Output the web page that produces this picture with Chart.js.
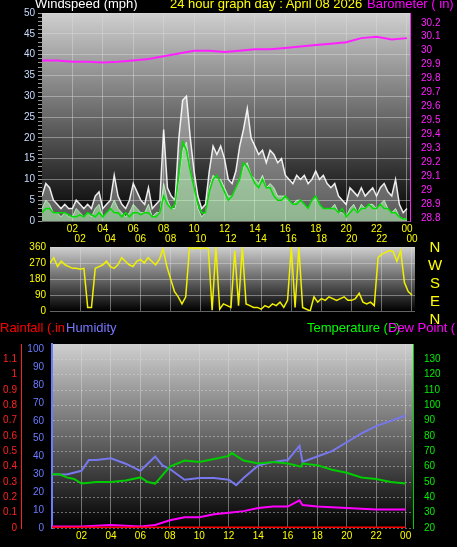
<!DOCTYPE html>
<html><head><meta charset="utf-8">
<script src="https://cdn.jsdelivr.net/npm/chart.js@4"></script>
<style>
body{margin:0;background:#000;width:457px;height:547px;overflow:hidden;position:relative;font-family:"Liberation Sans",sans-serif}
canvas{position:absolute;left:0}
.t{position:absolute;font-size:13px;white-space:nowrap;line-height:14px}
</style></head><body>
<canvas id="c1" style="top:0"></canvas>
<canvas id="c2" style="top:232px"></canvas>
<canvas id="c3" style="top:330px"></canvas>
<div class="t" style="left:35px;top:-3px;color:#fff">Windspeed (mph)</div>
<div class="t" style="left:170px;top:-3px;color:#ff0">24 hour graph day : April 08 2026</div>
<div class="t" style="left:367px;top:-3px;color:#f0f">Barometer ( in)</div>
<div class="t" style="left:428px;top:238px;color:#ff0;font-size:15px;line-height:18px;width:14px;text-align:center">N<br>W<br>S<br>E<br>N</div>
<div class="t" style="left:0;top:321px;color:#f00">Rainfall (.in</div>
<div class="t" style="left:66px;top:321px;color:#77f">Humidity</div>
<div class="t" style="left:307px;top:321px;color:#0f0">Temperature (F)</div>
<div class="t" style="left:388px;top:321px;color:#f0f">Dew Point (</div>
<script>
const quarterHours = Array.from({length:97},(_,i)=>i/4);
const windGust = [6,9,8,5,4,3,4,3,3,5,4,3,4,3,6,7,3,4,5,11,6,4,3,5,9,7,5,4,8,3,4,5,22,8,6,5,20,29,30,20,12,6,3,4,12,18,16,18,15,10,9,12,18,22,27,20,18,16,17,14,17,16,14,15,11,10,9,11,10,11,9,10,12,10,11,9,8,9,6,5,4,8,7,6,8,6,7,8,6,8,9,7,6,10,4,2,3];
const windAvg = [3,5,4,2,2,1,2,1,1,3,2,1,2,1,3,4,1,2,3,5,3,2,1,2,4,3,2,2,4,1,2,2,9,5,3,3,10,17,19,12,8,3,1,2,8,11,10,10,8,6,6,8,10,13,14,11,10,9,11,8,9,8,6,6,6,5,4,5,5,4,3,5,6,4,3,3,3,4,2,2,1,3,4,2,4,3,4,4,3,4,5,3,2,3,1,0.5,0.5];
const windTrend = [2,3,3,2,2,2,2,1.5,1,1,1.5,1,2,1.5,1,2,1,2,3,2,2,1,2,1,2,2,1.5,2,2,1,1,2,6,4,3,4,11,19,17,12,8,4,2,2,7,10,11,9,7,5,6,8,10,14,13,11,9,8,10,8,8,6,5,5,6,5,4,4,5,4,3,5,6,4,3,3,3,3,2,3,1,2,3,2,3,3,4,3,3,4,3,3,2,2,1,0.5,0.5];
const baroHours = [0,1,2,3,4,5,6,7,8,9,10,11,12,13,14,15,16,17,18,19,20,21,22,23,24];
const baroVals = [29.93,29.93,29.92,29.92,29.915,29.92,29.93,29.94,29.96,29.98,30.0,30.0,29.99,30.0,30.01,30.01,30.02,30.03,30.04,30.05,30.06,30.09,30.1,30.08,30.09];
const windDir = [270,300,250,280,260,250,240,240,235,240,20,20,240,250,260,280,250,240,260,300,280,260,250,280,290,270,300,280,260,290,350,250,180,110,80,40,80,360,350,355,350,355,350,5,360,10,40,30,20,340,30,360,40,30,20,20,10,30,20,40,30,50,20,60,360,20,360,20,10,0,80,50,70,60,80,70,60,70,80,60,60,70,100,50,40,50,30,300,320,330,340,335,280,340,160,110,90];
const tempHours = [0,0.5,1,1.5,2,3,4,5,6,6.5,7,8,9,10,11,12,12.2,13,14,15,16,16.9,17,18,19,20,21,22,23,24];
const tempVals = [55,55,53,52,49,50,50,51,53,50,49,60,64,63,65,67,69,64,62,63,62,60,62,61,58,56,53,52,50,49];
const humHours = [0,1,2,2.5,3,4,5,6,7,7.5,8,9,10,11,12,12.5,13,14,15,16,16.8,17,18,19,20,21,22,23,24];
const humVals = [30,30,32,38,38,39,36,32,40,35,33,27,28,28,27,24,28,35,37,38,46,37,40,43,48,53,57,60,63];
const dewHours = [0,2,4,6,7,8,9,10,11,12,13,14,15,16,16.8,17,18,20,22,24];
const dewVals = [21,21,22,21,22,25,27,27,29,30,31,33,34,34,38,35,34,33,32,32];
const rainHours = [0,24];
const rainVals = [0,0];
const hourTicks = [2,4,6,8,10,12,14,16,18,20,22,24];

const pts=(xs,ys)=>ys.map((y,i)=>({x:xs[i],y}));
const bg={id:'bg',beforeDraw(c){const a=c.chartArea,g=c.ctx.createLinearGradient(0,a.top,0,a.bottom);g.addColorStop(0,'#cfcfcf');g.addColorStop(1,'#000');c.ctx.save();c.ctx.fillStyle=g;c.ctx.fillRect(a.left,a.top,a.right-a.left,a.bottom-a.top);c.ctx.restore();}};
const grid={color:'rgba(220,220,220,0.45)',borderDash:[1,2],tickLength:4};
function xAxis(pos,max){return {type:'linear',position:pos,min:0,max:max,afterBuildTicks:s=>{s.ticks=hourTicks.map(v=>({value:v}))},
 ticks:{color:'#ff0',font:{size:10},padding:2,autoSkip:false,maxRotation:0,callback:v=>String(v%24).padStart(2,'0')},grid:{...grid,drawTicks:false},border:{display:false}};}
function fit(w){return s=>{s.width=w;}}
function fitH(h){return s=>{s.height=h;}}
const base={responsive:false,animation:false,plugins:{legend:{display:false},tooltip:{enabled:false}},elements:{point:{radius:0},line:{borderWidth:1.5,tension:0}}};
function mk(id,w,h,cfg){const el=document.getElementById(id);el.width=w;el.height=h;return new Chart(el,cfg);}

mk('c1',457,240,{type:'line',plugins:[bg],data:{datasets:[
 {data:pts(baroHours,baroVals),yAxisID:'yb',borderColor:'#ff20ff',borderWidth:2},
 {data:pts(quarterHours,windTrend),yAxisID:'y',borderColor:'#00dd00',borderWidth:1.5},
 {data:pts(quarterHours,windAvg),yAxisID:'y',borderColor:'rgba(200,255,200,0.8)',backgroundColor:'rgba(190,255,190,0.55)',fill:'origin',borderWidth:1},
 {data:pts(quarterHours,windGust),yAxisID:'y',borderColor:'rgba(255,255,255,0.9)',backgroundColor:'rgba(255,255,255,0.35)',fill:'origin',borderWidth:1.5}
]},options:{...base,layout:{padding:{top:13}},scales:{
 x:{...xAxis('bottom',24.2),afterFit:fitH(19)},
 y:{min:0,max:50,afterBuildTicks:s=>{s.ticks=Array.from({length:51},(_,i)=>({value:i}))},ticks:{color:'#c8dcff',font:{size:10},autoSkip:false,padding:3,callback:v=>v%5?'':v},
   grid:{color:c=>c.tick&&c.tick.value%5===0?'rgba(220,220,220,0.45)':'rgba(0,0,0,0)',borderDash:[1,2],tickColor:'#999',tickLength:4},border:{display:false},afterFit:fit(42)},
 yb:{position:'right',min:28.78,max:30.27,afterBuildTicks:s=>{s.ticks=[];for(let i=0;i<=14;i++)s.ticks.push({value:+(28.8+i*0.1).toFixed(1)});},
   ticks:{color:'#ff20ff',font:{size:10},autoSkip:false,padding:3,callback:v=>+v.toFixed(1)},grid:{display:false},border:{color:'#ff20ff',dash:[1,1]},afterFit:fit(47)}
}}});

mk('c2',457,90,{type:'line',plugins:[bg],data:{datasets:[
 {data:pts(quarterHours,windDir),borderColor:'#f0f000',borderWidth:1.5}
]},options:{...base,layout:{padding:{bottom:11}},scales:{
 x:{...xAxis('top',24.2),afterFit:fitH(15)},
 y:{min:0,max:360,afterBuildTicks:s=>{s.ticks=[0,90,180,270,360].map(v=>({value:v}))},ticks:{color:'#ff0',font:{size:10},padding:4},grid:{...grid,drawTicks:false},border:{display:false},afterFit:fit(50)},
 yr:{position:'right',min:0,max:360,ticks:{display:false},grid:{display:false},border:{display:false},afterFit:fit(42)}
}}});

mk('c3',457,217,{type:'line',plugins:[bg],data:{datasets:[
 {data:pts(rainHours,rainVals),yAxisID:'yr',borderColor:'#ff0000',borderWidth:3},
 {data:pts(dewHours,dewVals),yAxisID:'yt',borderColor:'#ff00ff',borderWidth:2},
 {data:pts(tempHours,tempVals),yAxisID:'yt',borderColor:'#00cc00',borderWidth:2},
 {data:pts(humHours,humVals),yAxisID:'yh',borderColor:'#7777ee',borderWidth:2}
]},options:{...base,layout:{padding:{top:9}},scales:{
 x:{...xAxis('bottom',24.5),afterFit:fitH(19)},
 yh:{position:'left',min:0,max:103,afterBuildTicks:s=>{s.ticks=Array.from({length:11},(_,i)=>({value:i*10}))},ticks:{color:'#6b7cff',font:{size:10},padding:8},grid:{display:false,drawTicks:false},border:{color:'#6b7cff',width:2},afterFit:fit(31)},
 yr:{position:'left',min:0,max:1.2,afterBuildTicks:s=>{s.ticks=Array.from({length:12},(_,i)=>({value:+(i*0.1).toFixed(1)}))},ticks:{color:'#ff2020',font:{size:10},padding:4,callback:v=>+v.toFixed(1)},grid:{...grid,drawTicks:false},border:{color:'#ff2020',dash:[2,2]},afterFit:fit(21)},
 yt:{position:'right',min:20,max:140,afterBuildTicks:s=>{s.ticks=Array.from({length:12},(_,i)=>({value:20+i*10}))},ticks:{color:'#00ee00',font:{size:10},padding:3},grid:{display:false},border:{color:'#00cc00',dash:[1,1]},afterFit:fit(44)}
}}});
</script></body></html>
